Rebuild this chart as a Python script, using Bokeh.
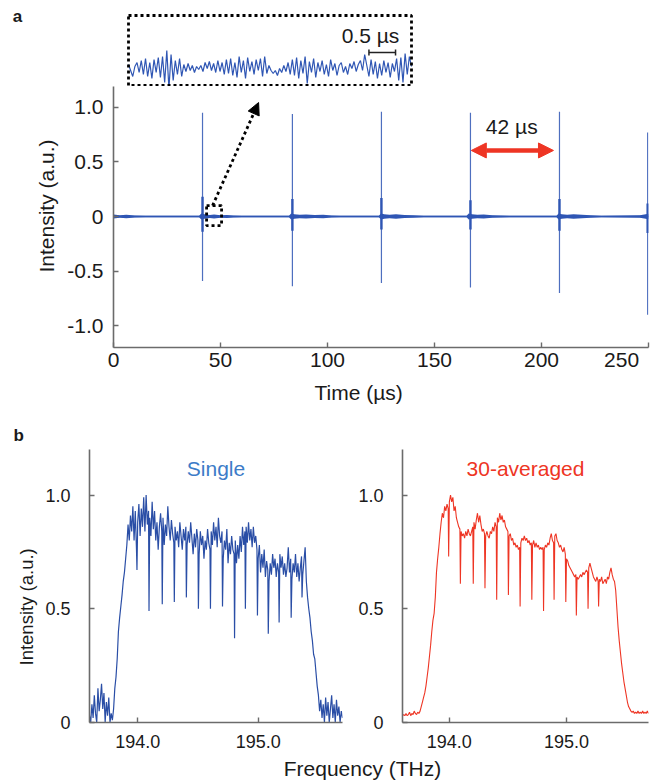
import numpy as np
from bokeh.plotting import figure
from bokeh.layouts import column, row
from bokeh.models import Range1d, FixedTicker, Label, Arrow, NormalHead, BoxAnnotation, Title
from bokeh.embed import file_html
from bokeh.resources import INLINE

FONT = "Liberation Sans"
BLUE = "#2f56b4"
BLUE_B = "#2a4ea6"
RED = "#ee3524"
AXIS = "#6b6b6b"
TXT = "#1a1a1a"

# ------------------------- data: panel a -------------------------
spike_times = [41.6, 83.6, 125.2, 166.8, 208.4, 249.6]
spike_up = [0.95, 0.94, 0.96, 0.95, 0.96, 0.77]
spike_down = [-0.59, -0.64, -0.61, -0.65, -0.70, -0.90]
burst_up = [0.18, 0.16, 0.17, 0.15, 0.16, 0.12]
burst_down = [-0.14, -0.13, -0.12, -0.12, -0.13, -0.15]
noise_t = [0, 3, 6, 10, 15, 40, 41, 42.5, 45, 47, 50, 53, 56, 60,
           82, 83, 84.5, 87, 90, 94, 98, 102, 106,
           124, 125, 126.5, 129, 132, 136, 140, 145,
           165, 166, 167.5, 170, 173, 177, 181, 185,
           207, 208, 209.5, 212, 215, 219, 223, 228, 246, 250]
noise_amp = [0.018, 0.012, 0.015, 0.010, 0.007, 0.008, 0.028, 0.020, 0.014, 0.018, 0.012, 0.014, 0.009, 0.007,
             0.008, 0.028, 0.020, 0.016, 0.019, 0.013, 0.016, 0.010, 0.007,
             0.008, 0.028, 0.020, 0.017, 0.020, 0.014, 0.012, 0.007,
             0.008, 0.028, 0.020, 0.015, 0.018, 0.012, 0.010, 0.007,
             0.008, 0.028, 0.020, 0.017, 0.020, 0.015, 0.012, 0.007, 0.012, 0.025]
# zoomed trace in the inset (intensity in units of 1e-3 a.u.), sampled every 0.04 us
inset_dt = 0.04
inset_trace = [4, -2, -8, 2, 6, -4,
               8, -6, 10, -8, 6, -10, 9, -4, 11, -9,
               12, -14, 18, -20, 14, -12, 8,
               -6, 10, -8, 4, -3, 5, -2, 3, -4, 2, -1, 3,
               -3, 6, 0, 7, -2, 5, -4, 8, -3, 6, -6, 9, -5, 10, -7, 6,
               -9, 12, -4, 8, -10, 11, -3, 7, -6, 9, -2, 10, -8, 12, -5, 3, -2,
               -5, -2, -7, 0, -4, 3, -3, 6, -6,
               9, -7, 11, -10, 8, -5, 12, -15, 7, -4, 10, -9, 6, -3,
               8, -6, 4, -8, 9, -2, 5, -7, 3, 6, -4, 2, -6, 5, 0, 7, -3, 4, 8,
               -2, 14, 3, -8, 9, -6, 7, -10, 5,
               -7, 8, -4, 6, -9, 5, -3, 10, -12, 11, -14, 15, -6, 12, 2]
time_ticks = [0, 50, 100, 150, 200, 250]
a_y_ticks = [-1.0, -0.5, 0, 0.5, 1.0]
a_y_labels = ["-1.0", "-0.5", "0", "0.5", "1.0"]

# ------------------------- data: panel b -------------------------
freq_start = 193.60
freq_step = 0.01
single = [0.03, 0.00, 0.08, 0.02, 0.12, 0.04, 0.00, 0.15, 0.05, 0.10,
          0.17, 0.06, 0.13, 0.00, 0.09, 0.03, 0.11, 0.00, 0.04, 0.01,
          0.06, 0.15, 0.20, 0.28, 0.40, 0.46, 0.51, 0.56, 0.62, 0.66,
          0.72, 0.78, 0.87, 0.80, 0.91, 0.84, 0.95, 0.80, 0.93, 0.76,
          0.88, 0.96, 0.82, 0.94, 0.86, 0.99, 0.84, 1.00, 0.87, 0.93,
          0.90, 0.82, 0.97, 0.85, 0.93, 0.80, 0.88, 0.76, 0.86, 0.92,
          0.84, 0.90, 0.78, 0.87, 0.82, 0.95, 0.86, 0.80, 0.89, 0.83,
          0.79, 0.86, 0.80, 0.84, 0.77, 0.88, 0.82, 0.76, 0.85, 0.80,
          0.86, 0.78, 0.84, 0.79, 0.88, 0.81, 0.74, 0.83, 0.77, 0.85,
          0.80, 0.74, 0.84, 0.78, 0.82, 0.72, 0.80, 0.76, 0.85, 0.79,
          0.76, 0.84, 0.78, 0.88, 0.80, 0.86, 0.77, 0.90, 0.82, 0.79,
          0.84, 0.72, 0.80, 0.76, 0.85, 0.70, 0.79, 0.74, 0.82, 0.76,
          0.74, 0.80, 0.70, 0.78, 0.72, 0.82, 0.75, 0.86, 0.78, 0.84,
          0.86, 0.79, 0.88, 0.80, 0.85, 0.77, 0.86, 0.79, 0.82, 0.76,
          0.72, 0.78, 0.66, 0.74, 0.68, 0.76, 0.64, 0.71, 0.67, 0.62,
          0.70, 0.65, 0.74, 0.68, 0.72, 0.64, 0.70, 0.66, 0.74, 0.68,
          0.73, 0.65, 0.70, 0.64, 0.68, 0.77, 0.66, 0.72, 0.63, 0.70,
          0.66, 0.74, 0.64, 0.70, 0.62, 0.68, 0.73, 0.65, 0.71, 0.77,
          0.62, 0.55, 0.50, 0.46, 0.40, 0.36, 0.30, 0.28, 0.22, 0.16,
          0.12, 0.05, 0.10, 0.02, 0.08, 0.00, 0.11, 0.03, 0.09, 0.00,
          0.06, 0.12, 0.02, 0.08, 0.00, 0.10, 0.03, 0.07, 0.00, 0.05, 0.02]
averaged = [0.030, 0.035, 0.030, 0.040, 0.030, 0.035, 0.045, 0.030, 0.040, 0.035,
            0.050, 0.040, 0.035, 0.045, 0.040, 0.050, 0.070, 0.090, 0.110, 0.130,
            0.16, 0.20, 0.24, 0.29, 0.34, 0.40, 0.45, 0.48, 0.55, 0.66,
            0.72, 0.77, 0.83, 0.88, 0.92, 0.90, 0.95, 0.93, 0.96, 0.94,
            0.97, 1.00, 0.97, 0.99, 0.93, 0.95, 0.90, 0.88, 0.86, 0.85,
            0.84, 0.82, 0.83, 0.81, 0.84, 0.82, 0.85, 0.83, 0.82, 0.84,
            0.86, 0.88, 0.85, 0.89, 0.92, 0.88, 0.91, 0.87, 0.84, 0.85,
            0.83, 0.82, 0.84, 0.82, 0.81, 0.84, 0.83, 0.86, 0.84, 0.88,
            0.86, 0.90, 0.88, 0.92, 0.89, 0.91, 0.88, 0.89, 0.86, 0.85,
            0.84, 0.82, 0.83, 0.80, 0.81, 0.78, 0.79, 0.77, 0.78, 0.76,
            0.77, 0.79, 0.81, 0.80, 0.82, 0.80, 0.81, 0.79, 0.80, 0.78,
            0.79, 0.78, 0.80, 0.77, 0.79, 0.77, 0.78, 0.76, 0.77, 0.76,
            0.77, 0.76, 0.78, 0.77, 0.79, 0.78, 0.81, 0.83, 0.80, 0.79,
            0.82, 0.83, 0.80, 0.79, 0.77, 0.78, 0.76, 0.75, 0.77, 0.74,
            0.72, 0.71, 0.69, 0.68, 0.67, 0.66, 0.65, 0.64, 0.65, 0.64,
            0.63, 0.64, 0.65, 0.64, 0.66, 0.65, 0.66, 0.67, 0.66, 0.68,
            0.70, 0.68, 0.66, 0.64, 0.63, 0.62, 0.64, 0.62, 0.63, 0.62,
            0.64, 0.61, 0.62, 0.63, 0.61, 0.64, 0.63, 0.66, 0.68, 0.65,
            0.63, 0.62, 0.58, 0.50, 0.42, 0.36, 0.31, 0.26, 0.22, 0.18,
            0.15, 0.12, 0.09, 0.07, 0.06, 0.05, 0.045, 0.05, 0.04, 0.045,
            0.04, 0.05, 0.04, 0.045, 0.04, 0.05, 0.04, 0.045, 0.04, 0.05, 0.04]
single_dip_f = [193.99, 194.09, 194.20, 194.30, 194.40, 194.50, 194.60, 194.70,
                194.80, 194.89, 194.99, 195.08, 195.17, 195.27, 195.36]
single_dip_v = [0.67, 0.49, 0.52, 0.53, 0.55, 0.50, 0.50, 0.51,
                0.37, 0.50, 0.47, 0.39, 0.44, 0.46, 0.55]
avg_dip_f = [193.99, 194.09, 194.20, 194.30, 194.40, 194.50, 194.60,
             194.70, 194.80, 194.89, 194.99, 195.08, 195.18, 195.27]
avg_dip_v = [0.73, 0.61, 0.61, 0.59, 0.54, 0.56, 0.51,
             0.54, 0.49, 0.54, 0.53, 0.47, 0.50, 0.51]
freq_ticks = [194.0, 195.0]
b_y_ticks = [0, 0.5, 1.0]
b_y_labels = ["0", "0.5", "1.0"]


def with_dips(vals, dip_f, dip_v):
    f = freq_start + freq_step * np.arange(len(vals))
    fx = np.concatenate([f, np.asarray(dip_f) + 0.004])
    fy = np.concatenate([np.asarray(vals, float), np.asarray(dip_v, float)])
    order = np.argsort(fx, kind="stable")
    return fx[order], fy[order]


def style(p, xticks, yticks, xover, yover, xstand, ystand, fsize):
    p.outline_line_color = None
    p.xgrid.visible = False
    p.ygrid.visible = False
    p.background_fill_color = "white"
    p.border_fill_color = "white"
    p.xaxis.ticker = FixedTicker(ticks=xticks)
    p.yaxis.ticker = FixedTicker(ticks=yticks)
    p.xaxis.major_label_overrides = xover
    p.yaxis.major_label_overrides = yover
    p.xaxis.major_label_standoff = xstand
    p.yaxis.major_label_standoff = ystand
    for ax in (p.xaxis[0], p.yaxis[0]):
        ax.axis_line_color = AXIS
        ax.axis_line_width = 1.6
        ax.major_tick_line_color = AXIS
        ax.major_tick_line_width = 1.4
        ax.major_tick_in = 5
        ax.major_tick_out = 0
        ax.minor_tick_line_color = None
        ax.major_label_text_font = FONT
        ax.major_label_text_font_size = fsize
        ax.major_label_text_color = TXT


def side_title(p, text, place, offset, standoff=10, size="21px"):
    p.add_layout(Title(text=text, align="left", offset=offset, standoff=standoff,
                       text_font=FONT, text_font_size=size, text_font_style="normal",
                       text_color=TXT), place)


def lab(p, text, x, y, size="21px", color=TXT, style_="normal"):
    p.add_layout(Label(x=x, y=y, text=text, text_font=FONT, text_font_size=size,
                       text_color=color, text_align="center", text_baseline="alphabetic",
                       text_font_style=style_))


def dotted_box(p, left, right, bottom, top):
    p.add_layout(BoxAnnotation(left=left, right=right, bottom=bottom, top=top,
                               fill_color=None, fill_alpha=0, line_color="black",
                               line_alpha=1.0, line_width=2.8, line_dash="3 3"))


def bare(p):
    p.outline_line_color = None
    p.xgrid.visible = False
    p.ygrid.visible = False
    p.background_fill_color = "white"
    p.border_fill_color = "white"


# ------------------------- top strip: panel letter and inset -------------------------
n_in = len(inset_trace)
T_in = (n_in - 1) * inset_dt
S = T_in / 283.0                      # inset microseconds per pixel
pT = figure(width=662, height=86, output_backend="svg", toolbar_location=None,
            x_range=Range1d(-128 * S, (662 - 128) * S), y_range=Range1d(-18, 68),
            x_axis_type=None, y_axis_type=None, min_border=0, min_border_left=0,
            min_border_right=0, min_border_top=0, min_border_bottom=0)
bare(pT)
t_in = inset_dt * np.arange(n_in)
pT.line(x=t_in, y=inset_trace, line_color=BLUE, line_width=1.2)
dotted_box(pT, 0, T_in, -17, 53)
bar_end = 5.02
BAR_Y = 16
pT.segment(x0=[bar_end - 0.5, bar_end - 0.5, bar_end], x1=[bar_end, bar_end - 0.5, bar_end],
           y0=[BAR_Y, BAR_Y - 3, BAR_Y - 3], y1=[BAR_Y, BAR_Y + 3, BAR_Y + 3],
           line_color="#222222", line_width=1.5)
lab(pT, "0.5 \u00b5s", 242 * S, 33)
lab(pT, "a", -111 * S, 52, size="17px", style_="bold")

# ------------------------- panel a -------------------------
A_TOP = -1.2 + (347 - 86) * 2.4 / 262.0
pA = figure(width=662, height=326, output_backend="svg", toolbar_location=None,
            x_range=Range1d(0, 250), y_range=Range1d(-1.2, A_TOP),
            min_border_left=113, min_border_right=14, min_border_top=0, min_border_bottom=65)
style(pA, time_ticks, a_y_ticks,
      {250: "250\u2007\u2007"}, {t: l for t, l in zip(a_y_ticks, a_y_labels)}, 0, 10, "21px")
side_title(pA, "Intensity (a.u.)", "left", 75, standoff=14)
side_title(pA, "Time (\u00b5s)", "below", 201, standoff=10)

neg = [-a for a in noise_amp]
pA.varea(x=noise_t, y1=neg, y2=noise_amp, fill_color=BLUE, fill_alpha=1.0)
pA.line(x=noise_t, y=[0] * len(noise_t), line_color=BLUE, line_width=1.4)
pA.segment(x0=spike_times, x1=spike_times, y0=burst_down, y1=burst_up,
           line_color=BLUE, line_width=2.4)
pA.segment(x0=spike_times, x1=spike_times, y0=spike_down, y1=spike_up,
           line_color=BLUE, line_width=1.2, line_alpha=0.85)

# zoom box and dotted arrow towards the inset
dotted_box(pA, 43.5, 50.5, -0.083, 0.10)
pA.add_layout(Arrow(end=NormalHead(size=12, fill_color="black", line_color="black"),
                    x_start=46.3, y_start=0.10, x_end=67.8, y_end=1.044,
                    line_color="black", line_width=2.8, line_dash="3 3"))

# 42 us period arrow
pA.add_layout(Arrow(start=NormalHead(size=15, fill_color=RED, line_color=RED),
                    end=NormalHead(size=15, fill_color=RED, line_color=RED),
                    x_start=spike_times[3] + 0.4, y_start=0.605,
                    x_end=spike_times[4] - 2.8, y_end=0.605,
                    line_color=RED, line_width=4.5))
lab(pA, "42 \u00b5s", (spike_times[3] + spike_times[4]) / 2 - 1.5, 0.825)

# ------------------------- panel b -------------------------
fs, ys = with_dips(single, single_dip_f, single_dip_v)
fa, ya = with_dips(averaged, avg_dip_f, avg_dip_v)
freq_over = {f: f"{f:.1f}" for f in freq_ticks}
yb_over = {t: l for t, l in zip(b_y_ticks, b_y_labels)}

pB1 = figure(width=350, height=346, output_backend="svg", toolbar_location=None,
             x_range=Range1d(193.6, 195.7), y_range=Range1d(0, 1.2),
             min_border_left=89, min_border_right=8, min_border_top=37, min_border_bottom=36)
style(pB1, freq_ticks, b_y_ticks, freq_over, yb_over, 12, 19, "18px")
pB1.title.text = "b"
pB1.title.align = "left"
pB1.title.offset = -76
pB1.title.text_font = FONT
pB1.title.text_font_size = "17px"
pB1.title.text_font_style = "bold"
pB1.title.text_color = TXT
side_title(pB1, "Intensity (a.u.)", "left", 57, standoff=12, size="18.5px")
pB1.line(x=fs, y=ys, line_color=BLUE_B, line_width=1.2)
lab(pB1, "Single", (193.6 + 195.7) / 2, 1.117, color="#3c7cc8")

pB2 = figure(width=312, height=346, output_backend="svg", toolbar_location=None,
             x_range=Range1d(193.6, 195.7), y_range=Range1d(0, 1.2),
             min_border_left=52, min_border_right=14, min_border_top=37, min_border_bottom=36)
style(pB2, freq_ticks, b_y_ticks, freq_over, yb_over, 12, 19, "18px")
pB2.line(x=fa, y=ya, line_color=RED, line_width=1.1)
lab(pB2, "30-averaged", (193.6 + 195.7) / 2, 1.117, color=RED)

# shared x label strip
pS = figure(width=662, height=26, output_backend="svg", toolbar_location=None,
            x_range=Range1d(0, 662), y_range=Range1d(0, 26), x_axis_type=None, y_axis_type=None,
            min_border=0, min_border_left=0, min_border_right=0, min_border_top=0,
            min_border_bottom=0)
bare(pS)
lab(pS, "Frequency (THz)", 362, 16)

layout = column(row(pT), pA, row(pB1, pB2), row(pS))
open("out.html", "w").write(file_html(layout, INLINE))
